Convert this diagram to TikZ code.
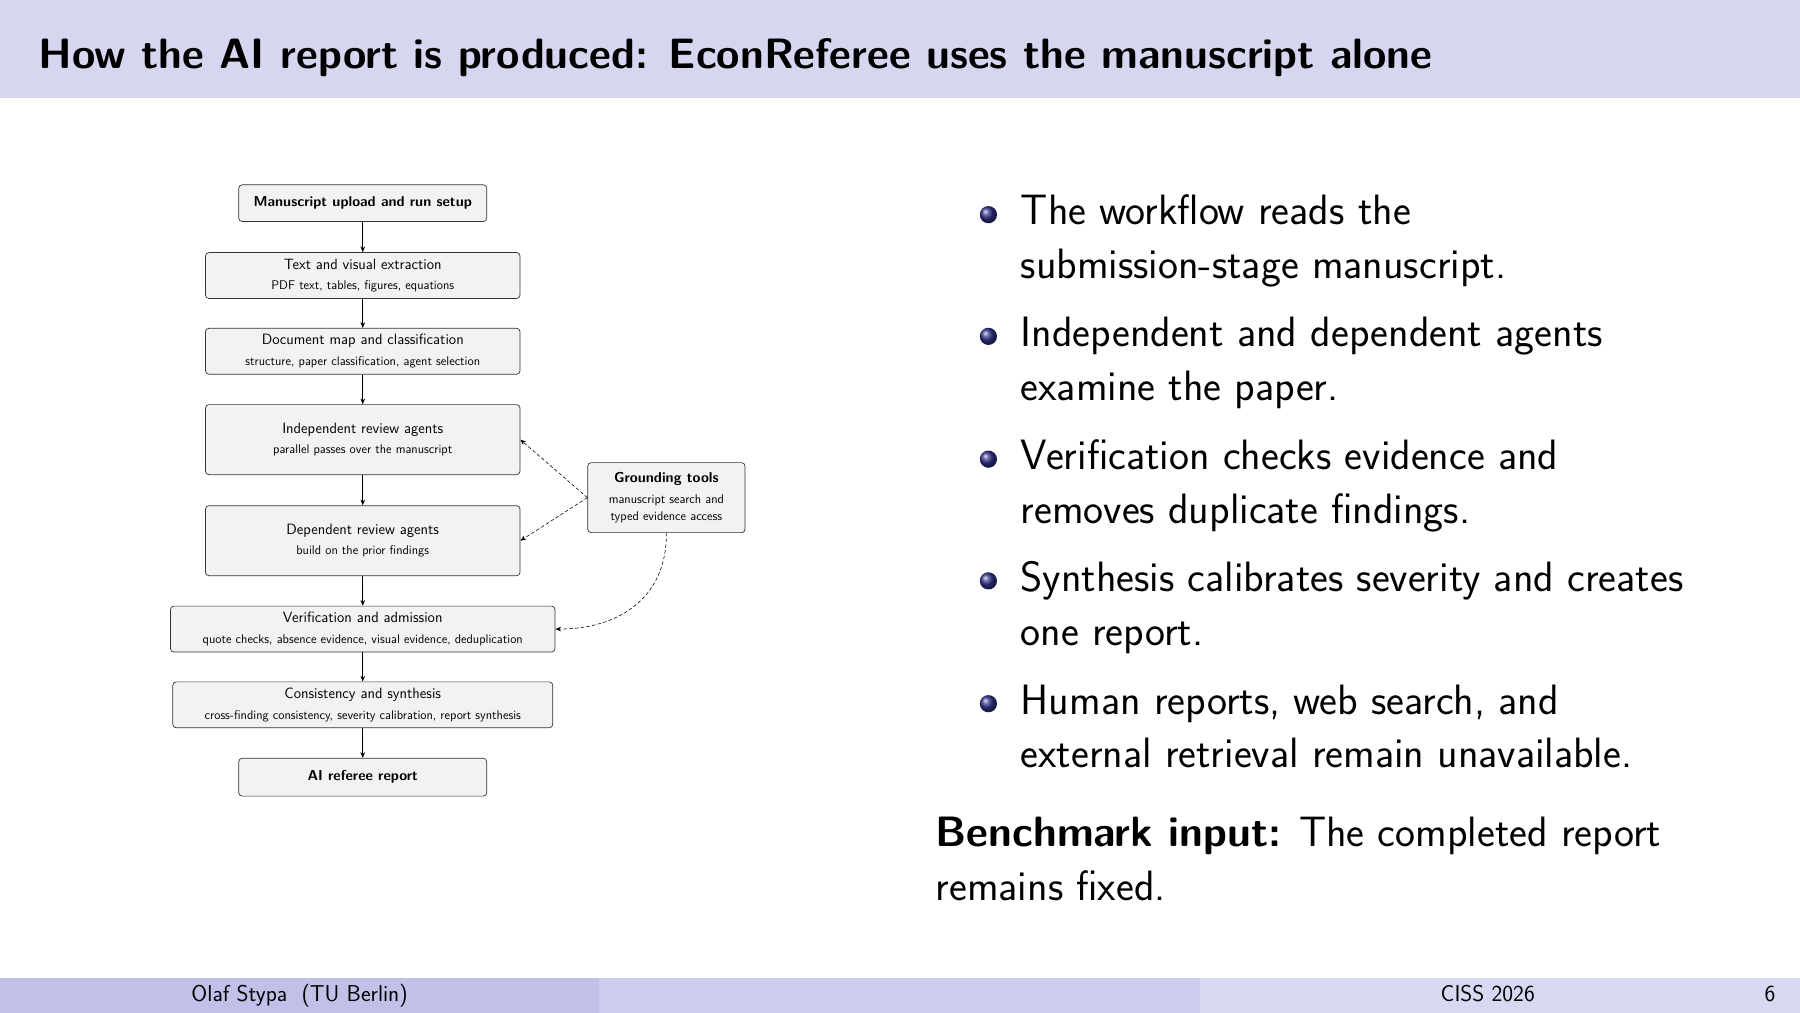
\documentclass[tikz,border=0pt]{standalone}
\usetikzlibrary{arrows.meta}
\definecolor{hdr}{RGB}{214,214,241}
\definecolor{fa}{RGB}{192,192,232}
\definecolor{fb}{RGB}{204,204,238}
\definecolor{fc}{RGB}{216,216,243}
\definecolor{ballc}{RGB}{50,50,140}
\begin{document}
\sffamily
\begin{tikzpicture}[x=1pt,y=-1pt,
  box/.style={draw=black!80,line width=0.6pt,rounded corners=3pt,fill=black!5,align=center,inner sep=0pt},
  main/.style={font=\fontsize{13}{17}\selectfont},
  arr/.style={-{Stealth[length=5pt,width=4pt]},line width=0.6pt},
  darr/.style={-{Stealth[length=5pt,width=4pt]},line width=0.5pt,dash pattern=on 3pt off 2pt}]
\useasboundingbox (0,0) rectangle (1568,882);
\fill[hdr] (0,0) rectangle (1568,85);
\node[anchor=base west,font=\fontsize{37}{40}\selectfont\bfseries] (title) at (30,60) {How the AI report is produced: EconReferee uses the manuscript alone};
% footer
\fill[fa] (0,852) rectangle (522,882);
\fill[fb] (522,852) rectangle (1045,882);
\fill[fc] (1045,852) rectangle (1568,882);
\node[anchor=base,font=\fontsize{20}{24}\selectfont] (fta) at (261,872) {Olaf Stypa\ \ (TU Berlin)};
\node[anchor=base,font=\fontsize{20}{24}\selectfont] (ftb) at (1296,872) {CISS 2026};
\node[anchor=base east,font=\fontsize{20}{24}\selectfont] (ftc) at (1550,872) {6};
% flowchart
\newcommand{\sm}[1]{{\fontsize{11}{15}\selectfont #1}}
\node[box,minimum width=216,minimum height=32,font=\fontsize{12.5}{16}\selectfont\bfseries] (n1) at (316,177) {Manuscript upload and run setup};
\node[box,main,minimum width=274,minimum height=40] (n2) at (316,240) {Text and visual extraction\\[1pt]\sm{PDF text, tables, figures, equations}};
\node[box,main,minimum width=274,minimum height=40] (n3) at (316,306) {Document map and classification\\[1pt]\sm{structure, paper classification, agent selection}};
\node[box,main,minimum width=274,minimum height=61] (n4) at (316,383) {Independent review agents\\[1pt]\sm{parallel passes over the manuscript}};
\node[box,main,minimum width=274,minimum height=61] (n5) at (316,471) {Dependent review agents\\[1pt]\sm{build on the prior findings}};
\node[box,main,minimum width=335,minimum height=40] (n6) at (316,548) {Verification and admission\\[1pt]\sm{quote checks, absence evidence, visual evidence, deduplication}};
\node[box,main,minimum width=331,minimum height=40] (n7) at (316,614) {Consistency and synthesis\\[1pt]\sm{cross-finding consistency, severity calibration, report synthesis}};
\node[box,minimum width=216,minimum height=33,font=\fontsize{12.5}{16}\selectfont\bfseries] (n8) at (316,677) {AI referee report};
\node[box,minimum width=137,minimum height=61,font=\fontsize{12.5}{17}\selectfont] (g) at (580.5,433.5) {\textbf{Grounding tools}\\[1pt]\sm{manuscript search and}\\[-2pt]\sm{typed evidence access}};
\foreach \a/\b in {n1/n2,n2/n3,n3/n4,n4/n5,n5/n6,n6/n7,n7/n8} \draw[arr] (\a) -- (\b);
\draw[darr] (g.west) -- (n4.east);
\draw[darr] (g.west) -- (n5.east);
\draw[darr] (g.south) .. controls (581,520) and (540,548) .. (n6.east);
% bullets
\foreach \y in {196,302,409,515,622} \shade[ball color=ballc] (861,\y-9) circle (7.5);
\begin{scope}[every node/.style={anchor=base west,font=\fontsize{37}{40}\selectfont,inner sep=0pt}]
\node (b1) at (889,196) {The workflow reads the};
\node (b1b) at (889,243) {submission-stage manuscript.};
\node (b2) at (889,302) {Independent and dependent agents};
\node (b2b) at (889,349) {examine the paper.};
\node (b3) at (889,409) {Verification checks evidence and};
\node (b3b) at (889,456) {removes duplicate findings.};
\node (b4) at (889,515) {Synthesis calibrates severity and creates};
\node (b4b) at (889,562) {one report.};
\node (b5) at (889,622) {Human reports, web search, and};
\node (b5b) at (889,669) {external retrieval remain unavailable.};
\node (c1) at (815,737) {\textbf{Benchmark input:} The completed report};
\node (c2) at (815,784) {remains fixed.};
\end{scope}
\end{tikzpicture}
\end{document}
